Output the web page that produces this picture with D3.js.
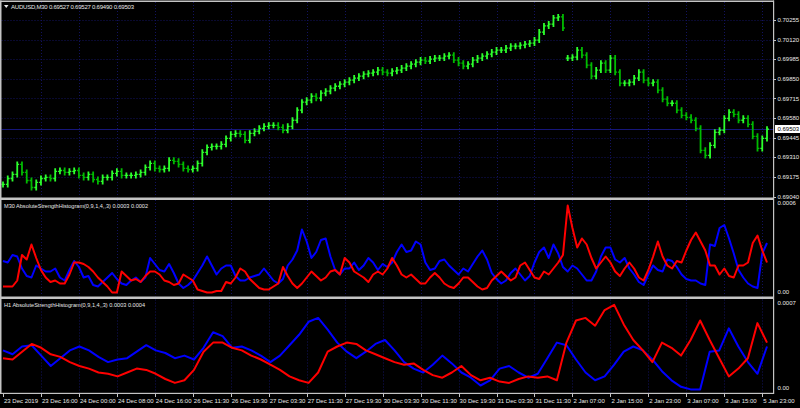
<!DOCTYPE html>
<html>
<head>
<meta charset="utf-8">
<script src="https://cdn.jsdelivr.net/npm/d3@7"></script>
<style>
  body { margin: 0; background: #000; }
  svg { display: block; }
  text { font-family: "Liberation Sans", Arial, sans-serif; font-size: 6px; fill: #e8e8e8; }
</style>
</head>
<body>
<div id="chart"></div>
<script>
(function() {

    // AUDUSD M30 closes, one per bar
    var closes = [
        0.69123,0.69164,0.69192,0.69261,0.69206,0.69150,0.69102,0.69137,0.69164,0.69171,
        0.69164,0.69213,0.69219,0.69206,0.69213,0.69219,0.69185,0.69171,0.69192,0.69157,
        0.69144,0.69171,0.69171,0.69199,0.69213,0.69185,0.69185,0.69185,0.69192,0.69206,
        0.69240,0.69268,0.69233,0.69226,0.69233,0.69289,0.69282,0.69261,0.69233,0.69226,
        0.69233,0.69268,0.69344,0.69378,0.69385,0.69385,0.69399,0.69440,0.69468,0.69475,
        0.69468,0.69427,0.69475,0.69489,0.69509,0.69523,0.69530,0.69530,0.69516,0.69496,
        0.69523,0.69565,0.69634,0.69689,0.69703,0.69730,0.69717,0.69751,0.69765,0.69786,
        0.69799,0.69813,0.69827,0.69841,0.69855,0.69868,0.69882,0.69889,0.69896,0.69910,
        0.69896,0.69889,0.69903,0.69910,0.69924,0.69937,0.69951,0.69965,0.69979,0.69972,
        0.69986,0.69993,0.69993,0.70006,0.70013,0.69979,0.69958,0.69937,0.69951,0.69979,
        0.69993,0.70006,0.70020,0.70034,0.70048,0.70048,0.70062,0.70075,0.70075,0.70082,
        0.70089,0.70096,0.70117,0.70172,0.70214,0.70227,0.70269,0.70276,0.70200,0.69993,
        0.69999,0.70048,0.70013,0.69944,0.69868,0.69910,0.69958,0.69910,0.69993,0.69896,
        0.69820,0.69820,0.69827,0.69855,0.69896,0.69841,0.69820,0.69827,0.69772,0.69710,
        0.69682,0.69682,0.69634,0.69599,0.69585,0.69565,0.69509,0.69358,0.69323,0.69392,
        0.69482,0.69496,0.69578,0.69620,0.69606,0.69565,0.69578,0.69537,0.69454,0.69371,
        0.69440,0.69503
    ];
    // bars that open after a session gap
    var gapBars = [119];
    var lastBar = ["0.69527", "0.69527", "0.69490", "0.69503"];
    var priceTicks = [0.70255, 0.70120, 0.69985, 0.69850, 0.69715, 0.69580, 0.69445, 0.69310, 0.69175, 0.69040];

    // AbsoluteStrength M30 (blue / red)
    var m30Blue = [
        0.00022,0.00021,0.00026,0.00025,0.00017,0.00012,0.00011,0.00019,0.00017,0.00015,
        0.00015,0.00017,0.00011,0.00009,0.00016,0.00022,0.00018,0.00011,0.00012,0.00006,
        0.00005,0.00008,0.00011,0.00014,0.00010,0.00007,0.00006,0.00009,0.00011,0.00008,
        0.00011,0.00024,0.00020,0.00016,0.00015,0.00020,0.00014,0.00007,0.00004,0.00006,
        0.00009,0.00014,0.00019,0.00025,0.00019,0.00013,0.00017,0.00019,0.00019,0.00012,
        0.00009,0.00009,0.00011,0.00012,0.00013,0.00017,0.00013,0.00009,0.00007,0.00010,
        0.00019,0.00023,0.00029,0.00043,0.00035,0.00024,0.00028,0.00036,0.00037,0.00025,
        0.00016,0.00013,0.00017,0.00017,0.00021,0.00016,0.00019,0.00024,0.00021,0.00016,
        0.00020,0.00018,0.00021,0.00028,0.00033,0.00028,0.00029,0.00035,0.00033,0.00021,
        0.00016,0.00017,0.00022,0.00023,0.00019,0.00016,0.00013,0.00017,0.00015,0.00020,
        0.00025,0.00029,0.00023,0.00014,0.00010,0.00007,0.00009,0.00014,0.00017,0.00013,
        0.00009,0.00012,0.00021,0.00028,0.00031,0.00024,0.00033,0.00027,0.00018,0.00015,
        0.00019,0.00017,0.00013,0.00009,0.00009,0.00015,0.00025,0.00031,0.00031,0.00023,
        0.00021,0.00024,0.00017,0.00013,0.00008,0.00006,0.00013,0.00019,0.00016,0.00015,
        0.00023,0.00022,0.00018,0.00013,0.00010,0.00009,0.00009,0.00007,0.00006,0.00033,
        0.00032,0.00044,0.00046,0.00037,0.00027,0.00016,0.00011,0.00007,0.00005,0.00004,
        0.00027,0.00034
    ];
    var m30Red = [
        0.00005,0.00005,0.00005,0.00009,0.00026,0.00023,0.00033,0.00024,0.00016,0.00011,
        0.00008,0.00009,0.00007,0.00007,0.00013,0.00021,0.00021,0.00020,0.00018,0.00015,
        0.00011,0.00008,0.00005,0.00001,0.00001,0.00015,0.00012,0.00009,0.00010,0.00008,
        0.00012,0.00015,0.00015,0.00013,0.00009,0.00008,0.00006,0.00007,0.00013,0.00011,
        0.00009,0.00003,0.00002,0.00001,0.00001,0.00002,0.00002,0.00008,0.00007,0.00011,
        0.00017,0.00015,0.00010,0.00007,0.00004,0.00003,0.00003,0.00005,0.00007,0.00018,
        0.00012,0.00007,0.00004,0.00007,0.00011,0.00015,0.00012,0.00009,0.00011,0.00015,
        0.00016,0.00013,0.00024,0.00021,0.00015,0.00013,0.00011,0.00008,0.00013,0.00015,
        0.00013,0.00017,0.00024,0.00019,0.00013,0.00011,0.00013,0.00010,0.00007,0.00007,
        0.00011,0.00014,0.00011,0.00007,0.00005,0.00004,0.00007,0.00011,0.00011,0.00008,
        0.00005,0.00003,0.00004,0.00009,0.00012,0.00015,0.00012,0.00009,0.00011,0.00019,
        0.00021,0.00016,0.00011,0.00010,0.00015,0.00013,0.00017,0.00021,0.00026,0.00059,
        0.00044,0.00031,0.00037,0.00033,0.00024,0.00017,0.00021,0.00025,0.00021,0.00015,
        0.00012,0.00017,0.00021,0.00017,0.00011,0.00009,0.00016,0.00025,0.00035,0.00025,
        0.00019,0.00017,0.00022,0.00021,0.00029,0.00036,0.00041,0.00035,0.00029,0.00019,
        0.00019,0.00013,0.00017,0.00012,0.00011,0.00019,0.00019,0.00021,0.00034,0.00039,
        0.00029,0.00021
    ];

    // AbsoluteStrength H1 (blue / red), one per hour
    var h1Blue = [
        0.00032,0.00029,0.00035,0.00036,0.00028,0.00020,0.00026,0.00032,0.00035,0.00032,
        0.00027,0.00023,0.00025,0.00026,0.00031,0.00036,0.00032,0.00030,0.00026,0.00028,
        0.00025,0.00034,0.00046,0.00043,0.00034,0.00035,0.00032,0.00028,0.00023,0.00028,
        0.00036,0.00044,0.00054,0.00057,0.00048,0.00038,0.00031,0.00026,0.00031,0.00037,
        0.00040,0.00032,0.00023,0.00018,0.00015,0.00021,0.00028,0.00022,0.00015,0.00011,
        0.00005,0.00009,0.00018,0.00020,0.00015,0.00011,0.00014,0.00026,0.00038,0.00036,
        0.00025,0.00015,0.00009,0.00012,0.00021,0.00031,0.00035,0.00032,0.00025,0.00016,
        0.00009,0.00004,0.00002,0.00002,0.00031,0.00032,0.00049,0.00035,0.00023,0.00014,
        0.00035
    ];
    var h1Red = [
        0.00026,0.00025,0.00031,0.00037,0.00034,0.00029,0.00027,0.00023,0.00020,0.00018,
        0.00015,0.00014,0.00012,0.00015,0.00018,0.00017,0.00014,0.00010,0.00007,0.00009,
        0.00017,0.00031,0.00038,0.00038,0.00034,0.00032,0.00028,0.00025,0.00021,0.00017,
        0.00012,0.00009,0.00007,0.00015,0.00031,0.00035,0.00038,0.00037,0.00032,0.00029,
        0.00026,0.00023,0.00021,0.00022,0.00017,0.00013,0.00011,0.00015,0.00020,0.00013,
        0.00009,0.00011,0.00008,0.00007,0.00010,0.00012,0.00011,0.00012,0.00009,0.00038,
        0.00055,0.00057,0.00051,0.00063,0.00067,0.00052,0.00040,0.00032,0.00023,0.00038,
        0.00034,0.00028,0.00040,0.00055,0.00040,0.00026,0.00012,0.00018,0.00026,0.00053,
        0.00038
    ];

    var timeLabels = ["23 Dec 2019", "23 Dec 16:00", "24 Dec 00:00", "24 Dec 08:00", "24 Dec 16:00",
        "26 Dec 11:30", "26 Dec 19:30", "27 Dec 03:30", "27 Dec 11:30", "27 Dec 19:30",
        "30 Dec 03:30", "30 Dec 11:30", "30 Dec 19:30", "31 Dec 03:30", "31 Dec 11:30",
        "2 Jan 07:00", "2 Jan 15:00", "2 Jan 23:00", "3 Jan 07:00", "3 Jan 15:00", "5 Jan 23:00"];
    var barsPerLabel = 8;

    var width = 800;
    var height = 408;
    var left = 1.5;
    var right = 773;
    var panes = [
        { id: "price", top: 2, bottom: 197.5 },
        { id: "m30", top: 200, bottom: 296.5 },
        { id: "h1", top: 299.5, bottom: 393 }
    ];
    var gridColor = "#12125e";
    var frameColor = "#c4c4c4";

    var svg = d3.select("#chart").append("svg")
        .attr("width", width)
        .attr("height", height)
        .style("background", "#000");

    var x = d3.scaleLinear().domain([0, closes.length - 1]).range([3, 767]);
    var xH1 = d3.scaleLinear().domain([0, h1Blue.length - 1]).range([3, 767]);
    var yPrice = d3.scaleLinear().domain([0.69040, 0.70255]).range([196.5, 20]);
    var yM30 = d3.scaleLinear().domain([0, 0.0006]).range([294, 204]);
    var yH1 = d3.scaleLinear().domain([0, 0.0007]).range([392, 301]);

    var defs = svg.append("defs");
    panes.forEach(function(p) {
        defs.append("clipPath").attr("id", "clip-" + p.id)
          .append("rect")
            .attr("x", left)
            .attr("y", p.top)
            .attr("width", right - left)
            .attr("height", p.bottom - p.top);
    });

    // dotted grid
    var gridX = timeLabels.map(function(d, k) { return x(k * barsPerLabel); });
    panes.forEach(function(p) {
        svg.append("g").selectAll("line")
            .data(gridX.slice(1))
            .enter().append("line")
            .attr("x1", function(d) { return Math.round(d) + 0.5; })
            .attr("x2", function(d) { return Math.round(d) + 0.5; })
            .attr("y1", p.top)
            .attr("y2", p.bottom)
            .attr("stroke", gridColor)
            .attr("stroke-dasharray", "1,2");
    });
    svg.append("g").selectAll("line")
        .data(priceTicks.slice(0, -1))
        .enter().append("line")
        .attr("x1", left)
        .attr("x2", right)
        .attr("y1", function(d) { return Math.round(yPrice(d)) + 0.5; })
        .attr("y2", function(d) { return Math.round(yPrice(d)) + 0.5; })
        .attr("stroke", gridColor)
        .attr("stroke-dasharray", "1,2");

    // current price line
    var lastY = Math.round(yPrice(closes[closes.length - 1])) + 0.5;
    svg.append("line")
        .attr("x1", left)
        .attr("x2", right)
        .attr("y1", lastY)
        .attr("y2", lastY)
        .attr("stroke", "#16167a");

    // OHLC bars
    var bars = closes.map(function(c, i) {
        var o = (i === 0 || gapBars.indexOf(i) >= 0) ? c : closes[i - 1];
        return { i: i, open: o, close: c };
    });
    var barG = svg.append("g").attr("clip-path", "url(#clip-price)");
    var bar = barG.selectAll("g")
        .data(bars)
        .enter().append("g")
        .attr("stroke", function(d) { return d.close >= d.open ? "#2cff2c" : "#00bb00"; });
    bar.append("line")
        .attr("stroke-width", 1.8)
        .attr("x1", function(d) { return x(d.i); })
        .attr("x2", function(d) { return x(d.i); })
        .attr("y1", function(d) { return yPrice(Math.max(d.open, d.close)) - 3; })
        .attr("y2", function(d) { return yPrice(Math.min(d.open, d.close)) + 3; });
    bar.append("line")
        .attr("stroke-width", 1.3)
        .attr("x1", function(d) { return x(d.i) - 1.9; })
        .attr("x2", function(d) { return x(d.i); })
        .attr("y1", function(d) { return yPrice(d.open); })
        .attr("y2", function(d) { return yPrice(d.open); });
    bar.append("line")
        .attr("stroke-width", 1.3)
        .attr("x1", function(d) { return x(d.i); })
        .attr("x2", function(d) { return x(d.i) + 1.9; })
        .attr("y1", function(d) { return yPrice(d.close); })
        .attr("y2", function(d) { return yPrice(d.close); });

    // indicator lines
    function drawLines(paneId, xs, ys, series) {
        var g = svg.append("g").attr("clip-path", "url(#clip-" + paneId + ")");
        var line = d3.line()
            .x(function(d, i) { return xs(i); })
            .y(function(d) { return ys(d); });
        series.forEach(function(s) {
            g.append("path")
                .attr("d", line(s.values))
                .attr("fill", "none")
                .attr("stroke", s.color)
                .attr("stroke-width", 2)
                .attr("stroke-linejoin", "round");
        });
    }
    drawLines("m30", x, yM30, [{ values: m30Blue, color: "#0000ff" }, { values: m30Red, color: "#ff0000" }]);
    drawLines("h1", xH1, yH1, [{ values: h1Blue, color: "#0000ff" }, { values: h1Red, color: "#ff0000" }]);

    // frame and pane separators
    var frame = svg.append("g").attr("fill", frameColor);
    frame.append("rect").attr("x", 0).attr("y", 0.5).attr("width", right + 1).attr("height", 1.5);
    frame.append("rect").attr("x", 0).attr("y", 0.5).attr("width", 1.5).attr("height", 393.5);
    frame.append("rect").attr("x", right).attr("y", 0.5).attr("width", 1.2).attr("height", 393.5);
    frame.append("rect").attr("x", 0).attr("y", 197.5).attr("width", right + 1).attr("height", 2.5);
    frame.append("rect").attr("x", 0).attr("y", 296.5).attr("width", right + 1).attr("height", 2.5);
    frame.append("rect").attr("x", 0).attr("y", 392.8).attr("width", right + 1).attr("height", 1.2);

    // price axis
    var axisG = svg.append("g");
    axisG.selectAll("line")
        .data(priceTicks)
        .enter().append("line")
        .attr("x1", right)
        .attr("x2", right + 3)
        .attr("y1", function(d) { return Math.round(yPrice(d)) + 0.5; })
        .attr("y2", function(d) { return Math.round(yPrice(d)) + 0.5; })
        .attr("stroke", frameColor);
    axisG.selectAll("text")
        .data(priceTicks)
        .enter().append("text")
        .attr("x", right + 4.5)
        .attr("y", function(d) { return yPrice(d) + 2.2; })
        .text(function(d) { return d.toFixed(5); });

    svg.append("rect")
        .attr("x", right + 2)
        .attr("y", lastY - 4.5)
        .attr("width", 26)
        .attr("height", 8)
        .attr("fill", "#fff");
    svg.append("text")
        .attr("x", right + 4.5)
        .attr("y", lastY + 1.8)
        .style("fill", "#000")
        .text(closes[closes.length - 1].toFixed(5));

    // indicator scales
    var indLabels = [
        { y: 203, t: "0.0006" }, { y: 292, t: "0.00" },
        { y: 302.5, t: "0.0007" }, { y: 388, t: "0.00" }
    ];
    axisG.append("g").selectAll("text")
        .data(indLabels)
        .enter().append("text")
        .attr("x", right + 4.5)
        .attr("y", function(d) { return d.y + 2.2; })
        .text(function(d) { return d.t; });

    // time axis
    var timeG = svg.append("g");
    timeG.selectAll("line")
        .data(gridX)
        .enter().append("line")
        .attr("x1", function(d) { return Math.round(d) + 0.5; })
        .attr("x2", function(d) { return Math.round(d) + 0.5; })
        .attr("y1", 393)
        .attr("y2", 397)
        .attr("stroke", frameColor);
    timeG.selectAll("text")
        .data(timeLabels)
        .enter().append("text")
        .attr("x", function(d, k) { return Math.max(gridX[k], 2) + 1; })
        .attr("y", 402.5)
        .text(function(d) { return d; });

    // pane titles
    svg.append("path")
        .attr("d", "M4,5 L8.5,5 L6.25,8 Z")
        .attr("fill", "#e8e8e8");
    svg.append("text").attr("x", 11).attr("y", 8.5)
        .attr("textLength", 123)
        .attr("lengthAdjust", "spacing")
        .text("AUDUSD,M30  " + lastBar.join(" "));
    svg.append("text").attr("x", 4).attr("y", 207.5)
        .attr("textLength", 144)
        .attr("lengthAdjust", "spacingAndGlyphs")
        .text("M30 AbsoluteStrengthHistogram(0,9,1,4,,3) 0.0003 0.0002");
    svg.append("text").attr("x", 4).attr("y", 306.5)
        .attr("textLength", 141)
        .attr("lengthAdjust", "spacingAndGlyphs")
        .text("H1 AbsoluteStrengthHistogram(0,9,1,4,,3) 0.0003 0.0004");

})();
</script>
</body>
</html>
